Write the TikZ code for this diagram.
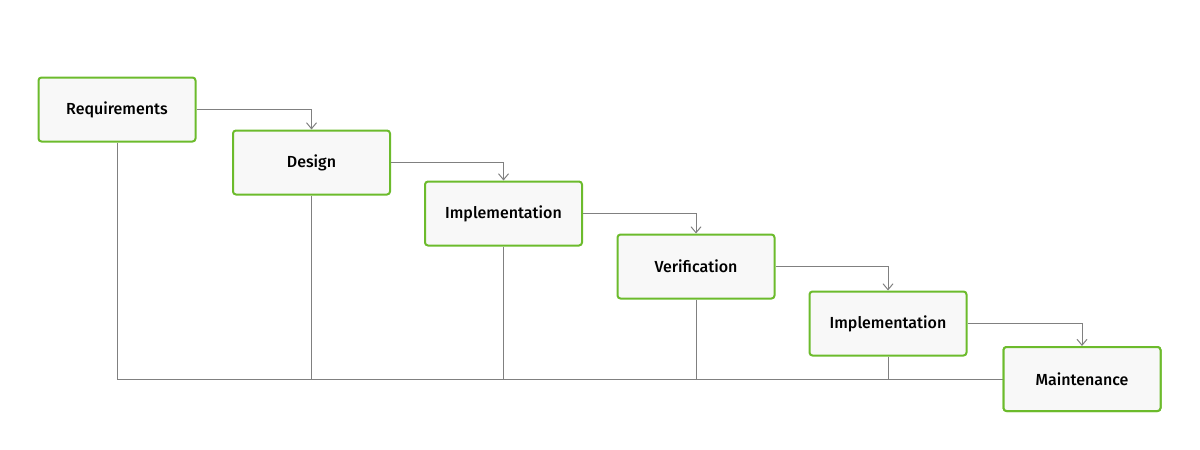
\documentclass[tikz,border=0pt]{standalone}
\usepackage{fontspec}
\setmainfont{Fira Sans}[UprightFont={* Medium}]
\usetikzlibrary{arrows.meta}
\definecolor{bgreen}{HTML}{6CBB2C}
\definecolor{bfill}{HTML}{F8F8F8}
\definecolor{lgray}{HTML}{808080}
\begin{document}
\begin{tikzpicture}[x=1pt,y=-1pt,
  box/.style={draw=bgreen,line width=2pt,fill=bfill,rounded corners=3pt,minimum width=157pt,minimum height=64pt,inner sep=0pt,font=\fontsize{16}{18}\selectfont},
  con/.style={draw=lgray,line width=1pt},
  arr/.style={con,-{Straight Barb[length=6pt,width=10pt]}}]
\useasboundingbox (0,0) rectangle (1200,450);
\node[box] (req) at (117,109.5) {Requirements};
\node[box] (des) at (311.5,162.5) {Design};
\node[box] (imp) at (503.5,213.5) {Implementation};
\node[box] (ver) at (696,266.5) {Verification};
\node[box] (imp2) at (888,323.5) {Implementation};
\node[box] (mai) at (1082,379) {Maintenance};
\begin{scope}[on background layer/.try]
\end{scope}
\draw[arr] (req.east) -| (des.north);
\draw[arr] (des.east) -| (imp.north);
\draw[arr] (imp.east) -| (ver.north);
\draw[arr] (ver.east) -| (imp2.north);
\draw[arr] (imp2.east) -| (mai.north);
\draw[con] (req.south) |- (mai.west);
\foreach \n in {des,imp,ver,imp2} \draw[con] (\n.south) -- (\n.south |- mai.west);
\node[box] at (mai) {Maintenance};
\end{tikzpicture}
\end{document}
